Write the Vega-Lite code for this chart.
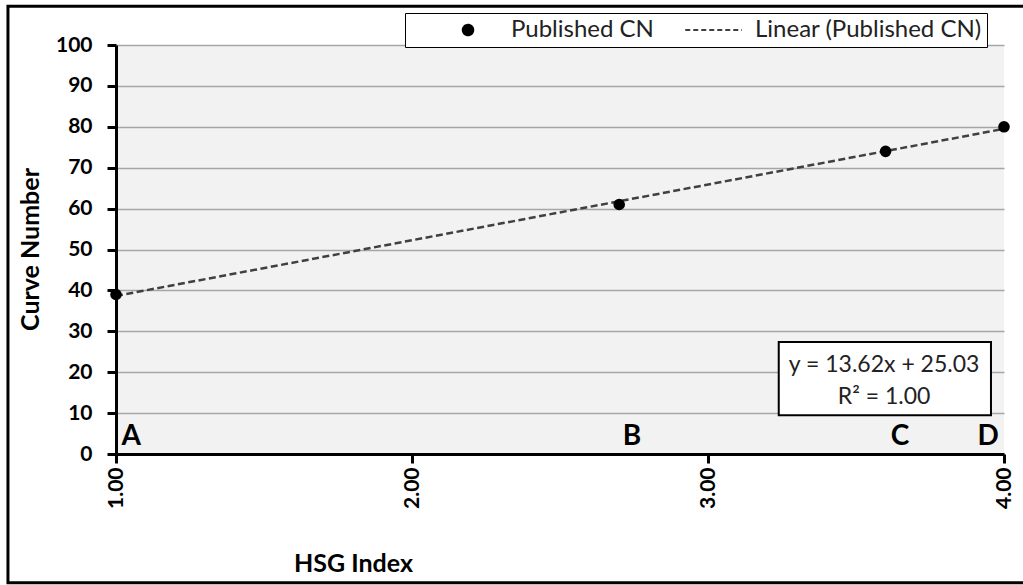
{
  "$schema": "https://vega.github.io/schema/vega-lite/v6.json",
  "width": 888,
  "height": 409,
  "autosize": {"type": "none"},
  "padding": {"left": 116, "top": 45, "right": 19, "bottom": 131},
  "background": "white",
  "datasets": {
    "cn": [
      {"hsg": 1.0, "cn": 39, "series": "Published CN"},
      {"hsg": 2.7, "cn": 61, "series": "Published CN"},
      {"hsg": 3.6, "cn": 74, "series": "Published CN"},
      {"hsg": 4.0, "cn": 80, "series": "Published CN"}
    ],
    "letters": [
      {"label": "A", "hsg": 1.051},
      {"label": "B", "hsg": 2.743},
      {"label": "C", "hsg": 3.649},
      {"label": "D", "hsg": 3.946}
    ],
    "one": [{}]
  },
  "config": {
    "font": "Lato",
    "view": {"fill": "#f2f2f2", "stroke": null},
    "axis": {
      "labelFont": "Lato",
      "labelFontWeight": "bold",
      "labelFontSize": 21,
      "labelColor": "black",
      "titleFont": "Lato",
      "titleFontWeight": "bold",
      "titleFontSize": 25,
      "titleColor": "black",
      "domainColor": "black",
      "domainWidth": 3,
      "tickColor": "black",
      "tickWidth": 3,
      "tickSize": 9
    }
  },
  "layer": [
    {
      "data": {"name": "one"},
      "mark": {"type": "rect", "fill": "transparent", "stroke": "black", "strokeWidth": 3, "clip": false},
      "encoding": {
        "x": {"datum": 0.635, "type": "quantitative", "scale": {"domain": [1, 4], "nice": false, "zero": false}},
        "x2": {"datum": 4.12},
        "y": {"datum": 109.5, "type": "quantitative", "scale": {"domain": [0, 100], "nice": false}},
        "y2": {"datum": -31.5}
      }
    },
    {
      "data": {"name": "cn"},
      "transform": [{"regression": "cn", "on": "hsg", "extent": [1, 4]}],
      "mark": {"type": "line", "strokeDash": [7, 3.5], "strokeWidth": 2.5},
      "encoding": {
        "x": {
          "field": "hsg",
          "type": "quantitative",
          "title": "HSG Index",
          "axis": {
            "values": [1, 2, 3, 4],
            "format": ".2f",
            "labelAngle": -90,
            "labelPadding": 4,
            "grid": false,
            "titleX": 237,
            "titleY": 109,
            "titleAlign": "center",
            "titleBaseline": "middle"
          }
        },
        "y": {
          "field": "cn",
          "type": "quantitative",
          "title": "Curve Number",
          "axis": {
            "values": [0, 10, 20, 30, 40, 50, 60, 70, 80, 90, 100],
            "labelPadding": 15,
            "grid": true,
            "gridColor": "#a6a6a6",
            "gridWidth": 1.5,
            "titleX": -86,
            "titleY": 204,
            "titleAlign": "center",
            "titleBaseline": "middle"
          }
        },
        "color": {
          "datum": "Linear (Published CN)",
          "type": "nominal",
          "title": null,
          "scale": {"domain": ["Published CN", "Linear (Published CN)"], "range": ["black", "#404040"]},
          "legend": {
            "title": null,
            "orient": "none",
            "legendX": 289,
            "legendY": -32,
            "direction": "horizontal",
            "strokeColor": "black",
            "fillColor": "white",
            "padding": 5,
            "labelFont": "Lato",
            "labelFontSize": 24,
            "labelColor": "#222",
            "labelLimit": 400,
            "symbolSize": 100,
            "symbolOffset": 46,
            "labelOffset": 31,
            "columnPadding": 0,
            "encode": {
              "symbols": {
                "update": {
                  "shape": {"signal": "datum.label === 'Published CN' ? 'circle' : 'M-5.1,0H5.7'"},
                  "size": {"value": 110},
                  "fill": {"signal": "datum.label === 'Published CN' ? 'black' : 'transparent'"},
                  "stroke": {"signal": "datum.label === 'Published CN' ? 'black' : '#404040'"},
                  "strokeWidth": {"value": 2},
                  "strokeDash": {"signal": "datum.label === 'Published CN' ? [1, 0] : [5, 3]"}
                }
              }
            }
          }
        }
      }
    },
    {
      "data": {"name": "cn"},
      "mark": {"type": "point", "filled": true, "size": 135, "opacity": 1, "clip": false},
      "encoding": {
        "x": {"field": "hsg", "type": "quantitative"},
        "y": {"field": "cn", "type": "quantitative"},
        "color": {"field": "series", "type": "nominal", "title": null}
      }
    },
    {
      "data": {"name": "letters"},
      "mark": {"type": "text", "fontSize": 28, "fontWeight": "bold", "font": "Lato", "color": "black", "baseline": "alphabetic", "align": "center"},
      "encoding": {
        "x": {"field": "hsg", "type": "quantitative"},
        "y": {"datum": 2.2, "type": "quantitative"},
        "text": {"field": "label"}
      }
    },
    {
      "data": {"name": "one"},
      "mark": {"type": "rect", "fill": "white", "stroke": "black", "strokeWidth": 2},
      "encoding": {
        "x": {"datum": 3.239, "type": "quantitative"},
        "x2": {"datum": 3.956},
        "y": {"datum": 27.4, "type": "quantitative"},
        "y2": {"datum": 9.5}
      }
    },
    {
      "data": {"name": "one"},
      "mark": {"type": "text", "fontSize": 23, "font": "Lato", "color": "#222", "align": "center", "baseline": "middle", "lineHeight": 32},
      "encoding": {
        "x": {"datum": 3.595, "type": "quantitative"},
        "y": {"datum": 21.8, "type": "quantitative"},
        "text": {"value": ["y = 13.62x + 25.03", "R² = 1.00"]}
      }
    }
  ]
}
